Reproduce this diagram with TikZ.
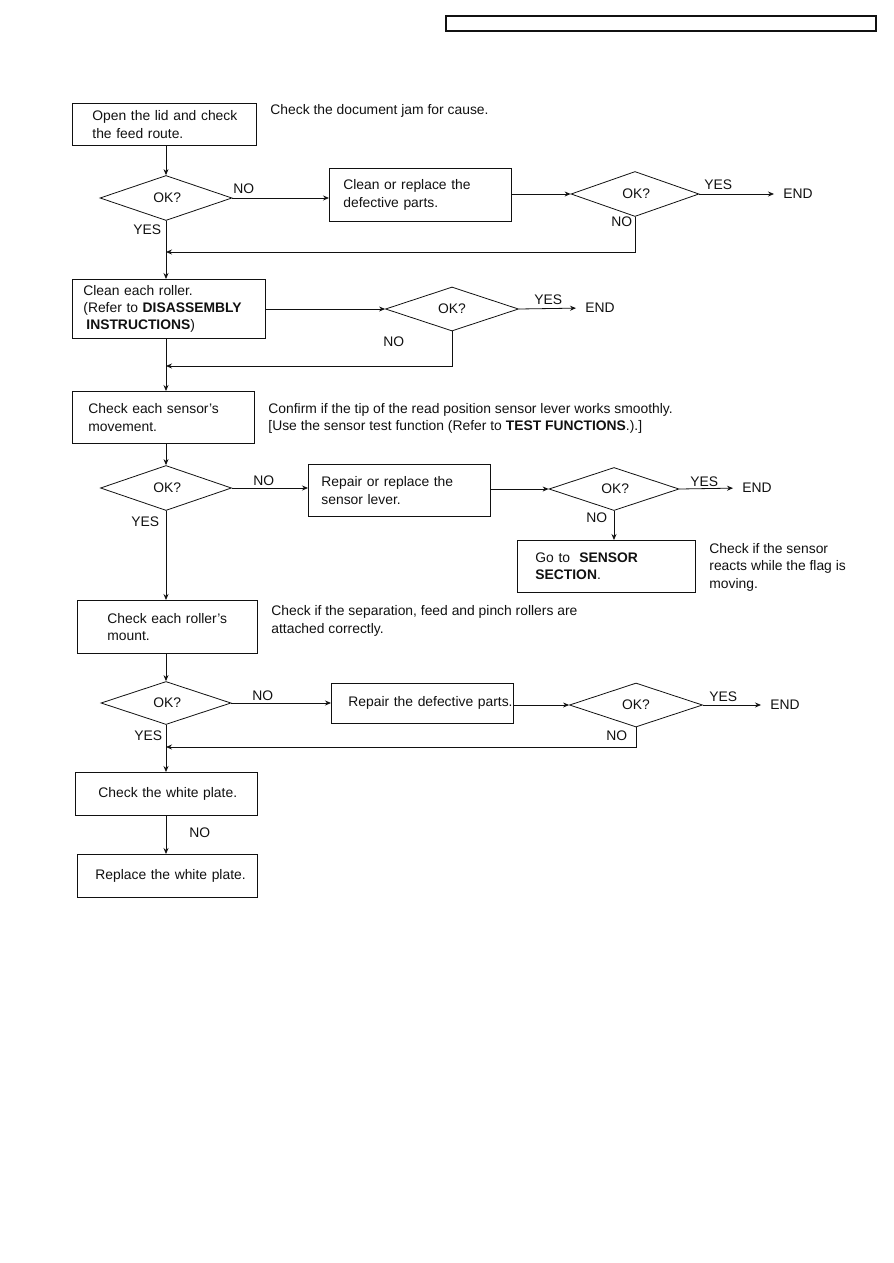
\documentclass[tikz,border=0pt]{standalone}
\usepackage{fontspec}
\setmainfont{Liberation Sans}
\usepackage{xcolor}
\usepackage{tikz}
\usetikzlibrary{arrows.meta,shapes.geometric}
\definecolor{jamInk}{HTML}{111111}
\newdimen\px \px=0.75pt
\newcommand{\bxpad}[1]{\hspace*{#1\px}}

\begin{document}
\begin{tikzpicture}[
  x=1\px,y=-1\px,
  line width=.6pt,color=jamInk,
  font=\fontsize{10.4}{13.1}\selectfont,
  box/.style={draw,anchor=north west,align=left,inner xsep=0pt,inner ysep=0pt},
  dia/.style={draw,diamond,inner sep=0pt},
  lab/.style={anchor=west,inner sep=0pt},
  note/.style={anchor=west,inner sep=0pt,align=left},
  arr/.style={-{Stealth[length=4.5pt,width=3.75pt]}},
  toend/.style={arr,shorten >=6.75pt}
]
  \useasboundingbox (0,0) rectangle (893,1263);
  \draw[line width=1.3pt] (446,16) rectangle (876,31);

  % first check
  \node[box,text width=184\px,minimum height=42\px] (b1) at (72,103)
    {\bxpad{20}Open the lid and check\\\bxpad{20}the feed route.};
  \node[note] (n1) at (270,111) {Check the document jam for cause.};
  \node[dia,minimum width=132\px,minimum height=45\px] (d1) at (166,198) {\,OK?};
  \node[box,text width=182\px,minimum height=53\px] (b2) at (329,168)
    {\bxpad{14}Clean or replace the\\\bxpad{14}defective parts.};
  \node[dia,minimum width=128\px,minimum height=45\px] (d2) at (635,194) {\,OK?};
  \node[lab] (e1) at (783,194) {END};
  \node[lab] at (233,189) {NO};
  \node[lab] at (133,230) {YES};
  \node[lab] at (704,185) {YES};
  \node[lab] at (611,222) {NO};
  \coordinate (m1) at (166,252);

  % rollers
  \node[box,text width=193\px,minimum height=59\px] (b3) at (72,279)
    {\bxpad{11}Clean each roller.\\\bxpad{11}(Refer to \textbf{DISASSEMBLY}\\\bxpad{14}\textbf{INSTRUCTIONS})};
  \node[dia,minimum width=133\px,minimum height=44\px] (d3) at (452,309) {OK?};
  \node[lab] (e2) at (585,308) {END};
  \node[lab] at (534,300) {YES};
  \node[lab] at (383,342) {NO};
  \coordinate (m2) at (166,366);

  % sensor
  \node[box,text width=182\px,minimum height=52\px] (b4) at (72,391)
    {\bxpad{16}Check each sensor's\\\bxpad{16}movement.};
  \node[note] (n2) at (268,418.5) {Confirm if the tip of the read position sensor lever works smoothly.\\
    {[}Use the sensor test function (Refer to \textbf{TEST FUNCTIONS}.).]};
  \node[dia,minimum width=131\px,minimum height=45\px] (d4) at (166,488) {\,OK?};
  \node[box,text width=182\px,minimum height=52\px] (b5) at (308,464)
    {\bxpad{13}Repair or replace the\\\bxpad{13}sensor lever.};
  \node[dia,minimum width=130\px,minimum height=43\px] (d5) at (614,489) {\,OK?};
  \node[lab] (e3) at (742,488) {END};
  \node[box,text width=178\px,minimum height=52\px] (b6) at (517,540)
    {\bxpad{18}Go to\ \ \textbf{SENSOR}\\\bxpad{18}\textbf{SECTION}.};
  \node[note] (n3) at (709,567) {Check if the sensor\\reacts while the flag is\\moving.};
  \node[lab] at (253,481) {NO};
  \node[lab] at (131,522) {YES};
  \node[lab] at (690,482) {YES};
  \node[lab] at (586,518) {NO};

  % roller mount
  \node[box,text width=180\px,minimum height=53\px] (b7) at (77,600)
    {\bxpad{30}Check each roller's\\\bxpad{30}mount.};
  \node[note] (n4) at (271,621) {Check if the separation, feed and pinch rollers are\\attached correctly.};
  \node[dia,minimum width=130\px,minimum height=43\px] (d6) at (166,703) {\,OK?};
  \node[box,text width=182\px,minimum height=40\px] (b8) at (331,683)
    {\bxpad{17}Repair the defective parts.};
  \node[dia,minimum width=133\px,minimum height=44\px] (d7) at (636,705) {OK?};
  \node[lab] (e4) at (770,705) {END};
  \node[lab] at (252,696) {NO};
  \node[lab] at (134,736) {YES};
  \node[lab] at (709,697) {YES};
  \node[lab] at (606,736) {NO};
  \coordinate (m3) at (166,747);

  % white plate
  \node[box,text width=182\px,minimum height=43\px] (b9) at (75,772)
    {\bxpad{23}Check the white plate.};
  \node[box,text width=180\px,minimum height=43\px] (b10) at (77,854)
    {\bxpad{18}Replace the white plate.};
  \node[lab] at (189,833) {NO};

  % connectors
  \draw[arr] (d1.north |- b1.south) -- (d1.north);
  \draw[arr] (d1.east) -- (d1.east -| b2.west);
  \draw[arr] (d2.west -| b2.east) -- (d2.west);
  \draw[toend] (d2.east) -- (e1.west);
  \draw[arr] (d2.south) |- (m1);
  \draw[arr] (d1.south) -- (d1.south |- b3.north);
  \draw[arr] (d3.west -| b3.east) -- (d3.west);
  \draw[toend] (d3.east) -- (e2.west);
  \draw[arr] (d3.south) |- (m2);
  \draw[arr] (d1.south |- b3.south) -- (d1.south |- b4.north);
  \draw[arr] (d4.north |- b4.south) -- (d4.north);
  \draw[arr] (d4.east) -- (d4.east -| b5.west);
  \draw[arr] (d5.west -| b5.east) -- (d5.west);
  \draw[toend] (d5.east) -- (e3.west);
  \draw[arr] (d5.south) -- (d5.south |- b6.north);
  \draw[arr] (d4.south) -- (d4.south |- b7.north);
  \draw[arr] (d6.north |- b7.south) -- (d6.north);
  \draw[arr] (d6.east) -- (d6.east -| b8.west);
  \draw[arr] (d7.west -| b8.east) -- (d7.west);
  \draw[toend] (d7.east) -- (e4.west);
  \draw[arr] (d7.south) |- (m3);
  \draw[arr] (d6.south) -- (d6.south |- b9.north);
  \draw[arr] (d6.south |- b9.south) -- (d6.south |- b10.north);
\end{tikzpicture}
\end{document}
